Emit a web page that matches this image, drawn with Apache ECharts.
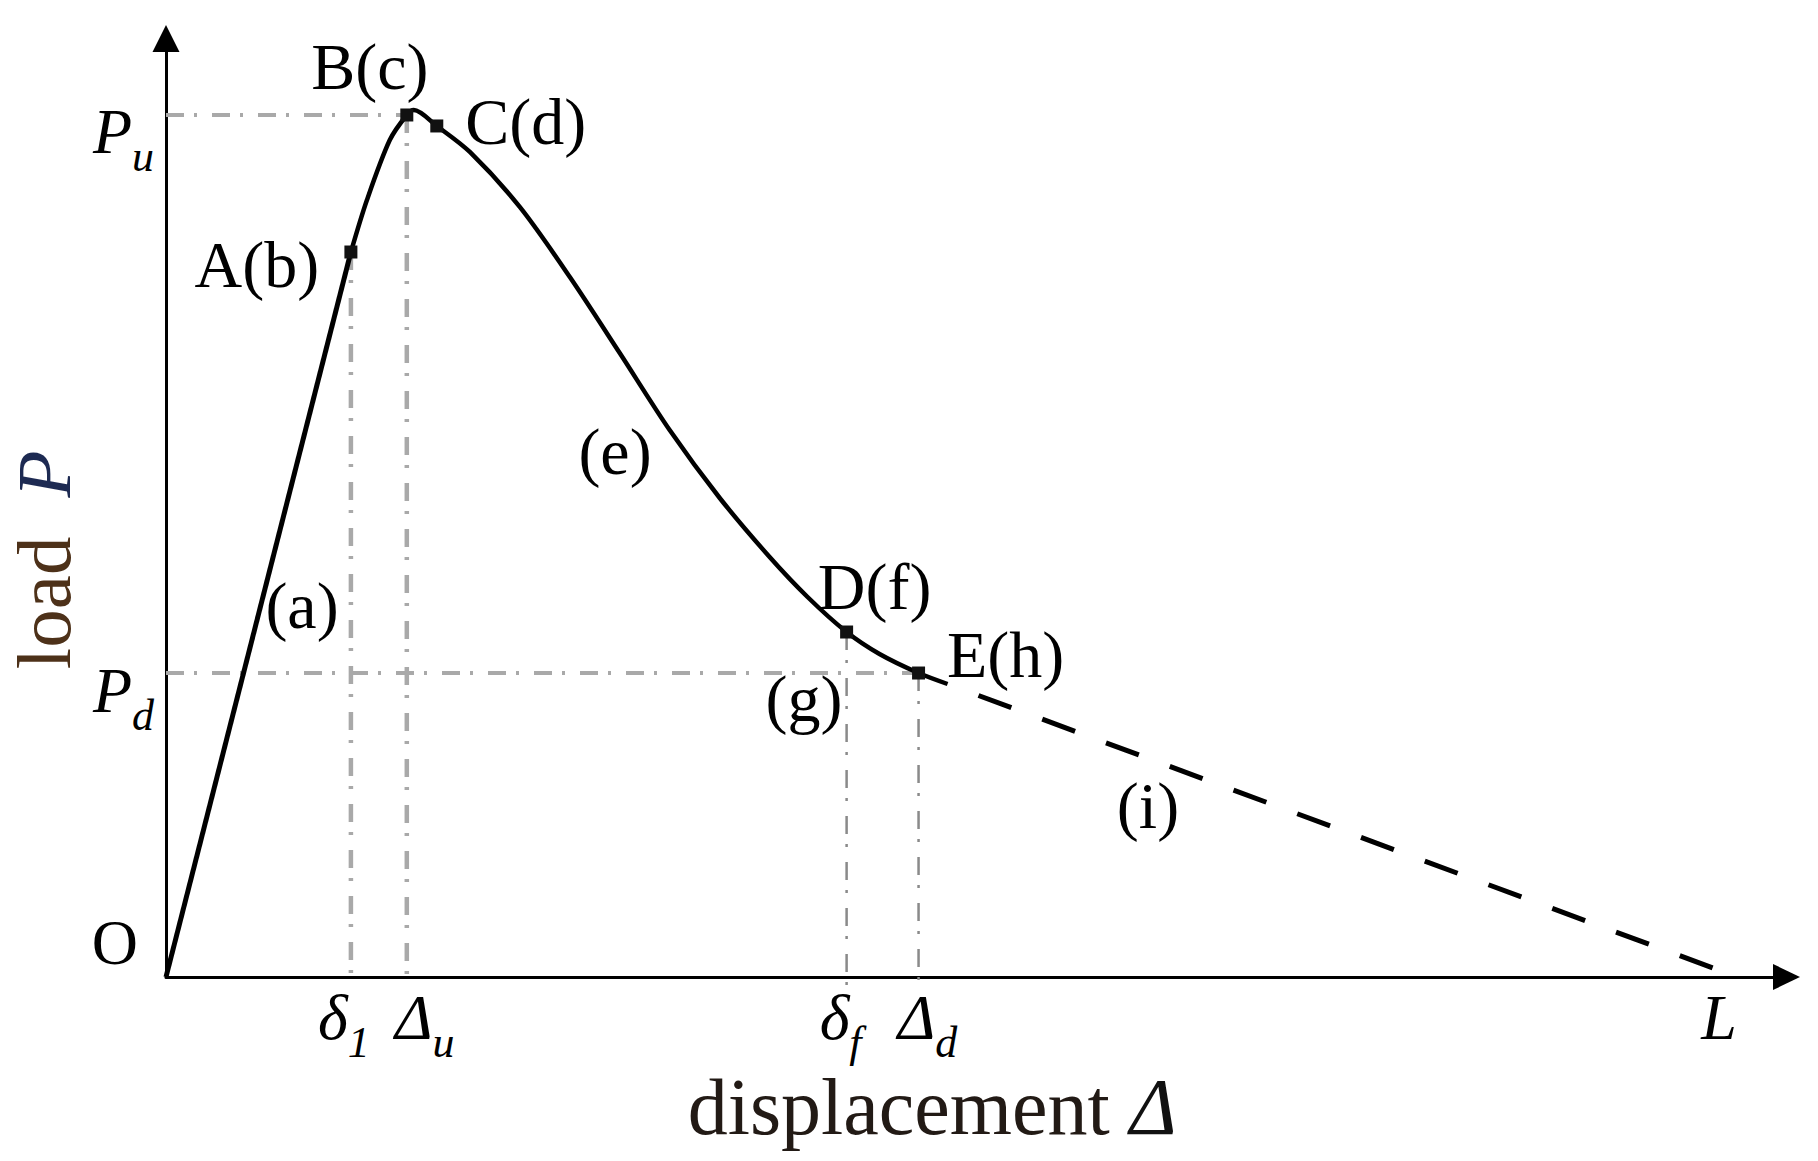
<!DOCTYPE html>
<html>
<head>
<meta charset="UTF-8">
<title>Load-displacement curve</title>
<script src="https://cdn.jsdelivr.net/npm/echarts@6.0.0/dist/echarts.min.js"></script>
<style>
    html, body { margin: 0; padding: 0; background: #fff; }
    #chart { width: 1818px; height: 1161px; }
</style>
</head>
<body>
<div id="chart"></div>
<script>
// characteristic points (x: displacement, y: load, in % of the axis length)
const keyNames = ['A(b)', 'B(c)', 'C(d)', 'D(f)', 'E(h)'];
const keyX = [11.41, 14.86, 16.71, 42.00, 46.44];
const keyY = [77.25, 91.85, 90.68, 36.76, 32.39];

// elastic branch O -> A
const elasticX = [0, 11.41];
const elasticY = [0, 77.25];

// nonlinear branch A -> end of the measured curve
const curveX = [11.41, 12.40, 13.81, 14.86, 15.29, 16.71, 18.75, 21.83, 24.92, 28.00, 31.08, 34.17, 37.25, 39.59, 42.00, 44.03, 46.44, 48.23];
const curveY = [77.25, 82.79, 89.18, 91.85, 92.38, 90.68, 87.91, 82.05, 74.59, 66.49, 58.28, 51.04, 44.75, 40.49, 36.76, 34.42, 32.39, 31.22];

// extrapolated branch (i) down to L
const tailX = [48.23, 95.96];
const tailY = [31.22, 0.64];

// tick labels
const xTickNames = ['δ1', 'Δu', 'δf', 'Δd', 'L'];
const xTickValues = [keyX[0], keyX[1], keyX[3], keyX[4], tailX[1]];
const yTickNames = ['O', 'Pd', 'Pu'];
const yTickValues = [0, keyY[4], keyY[1]];

// stage labels
const stageNames = ['(a)', '(e)', '(g)', '(i)'];

// ---- layout / style ----
const serif = '"Liberation Serif", "Times New Roman", serif';
const stagePos = [[302, 605], [615, 451], [804, 698], [1148, 805]];
const keyLabelOffset = { 'A(b)': [-94, 12], 'B(c)': [-37, -48], 'C(d)': [89, -4], 'D(f)': [28, -46], 'E(h)': [87, -19] };
const xShift = [-7, 18, -6, 9, -2];
const overshoot = 0.85;   // reference lines run a little past the x axis
const dashDot = [18, 10, 3, 15];

const xRich = {};
xTickNames.forEach((t, i) => {
    const sh = xShift[i];
    const hasSub = t.length > 1;
    xRich['m' + i] = {
        fontFamily: serif, fontStyle: 'italic', fontSize: 64, color: '#000', verticalAlign: 'top',
        padding: [0, (!hasSub && sh < 0) ? -2 * sh : 0, 0, sh > 0 ? 2 * sh : 0]
    };
    xRich['s' + i] = {
        fontFamily: serif, fontStyle: 'italic', fontSize: 44, color: '#000', verticalAlign: 'top',
        padding: [35, sh < 0 ? -2 * sh : 0, 0, 0]
    };
});

const yRich = {
    o: { fontFamily: serif, fontSize: 64, color: '#000', verticalAlign: 'top', padding: [0, 16, 70, 0] },
    pm: { fontFamily: serif, fontStyle: 'italic', fontSize: 64, color: '#000', verticalAlign: 'top', padding: [49, 0, 0, 0] },
    ps: { fontFamily: serif, fontStyle: 'italic', fontSize: 44, color: '#000', verticalAlign: 'top', padding: [84, 0, 0, 0] }
};

function nearestIndex(arr, v) {
    let best = 0;
    arr.forEach((a, i) => { if (Math.abs(a - v) < Math.abs(arr[best] - v)) best = i; });
    return best;
}

function xLabel(v) {
    const i = nearestIndex(xTickValues, v);
    const t = xTickNames[i];
    return t.length > 1 ? `{m${i}|${t[0]}}{s${i}|${t.slice(1)}}` : `{m${i}|${t}}`;
}

function yLabel(v) {
    const t = yTickNames[nearestIndex(yTickValues, v)];
    return t === 'O' ? '{o|O}' : `{pm|${t[0]}}{ps|${t.slice(1)}}`;
}

const zip = (xs, ys) => xs.map((x, i) => [x, ys[i]]);

function refLine(pts, color, width) {
    return {
        type: 'line', data: pts, symbol: 'none', clip: false, silent: true, z: 1,
        lineStyle: { color: color, width: width, type: dashDot }
    };
}

const [A, B, , D, E] = zip(keyX, keyY);

const chart = echarts.init(document.getElementById('chart'), null, { renderer: 'svg' });

chart.setOption({
    backgroundColor: '#fff',
    animation: false,
    grid: { left: 166, right: 31.5, top: 38.5, bottom: 184, outerBoundsMode: 'none' },
    xAxis: {
        type: 'value', min: 0, max: 100,
        axisLine: { onZero: false, lineStyle: { color: '#000', width: 3 }, symbol: ['none', 'triangle'], symbolSize: [26, 27] },
        axisTick: { show: false },
        splitLine: { show: false },
        axisLabel: { customValues: xTickValues, margin: 8, formatter: xLabel, rich: xRich },
        name: 'displacement {d|Δ}',
        nameLocation: 'middle',
        nameGap: 90,
        nameMoveOverlap: false,
        nameTextStyle: {
            fontFamily: serif, fontSize: 80, color: '#221a15', padding: [0, 88, 0, 0],
            rich: { d: { fontFamily: serif, fontStyle: 'italic', fontSize: 80, color: '#111' } }
        }
    },
    yAxis: {
        type: 'value', min: 0, max: 100,
        axisLine: { onZero: false, lineStyle: { color: '#000', width: 3 }, symbol: ['none', 'triangle'], symbolSize: [27, 27] },
        axisTick: { show: false },
        splitLine: { show: false },
        axisLabel: { customValues: yTickValues, margin: 12, formatter: yLabel, rich: yRich },
        name: 'load {p|P}',
        nameLocation: 'middle',
        nameGap: 84,
        nameMoveOverlap: false,
        nameTextStyle: {
            fontFamily: serif, fontSize: 77, color: '#4d3119', padding: [0, 104, 0, 0],
            rich: { p: { fontFamily: serif, fontStyle: 'italic', fontSize: 77, color: '#1d2a52', padding: [0, 0, 0, 20] } }
        }
    },
    series: [
        refLine([[0, B[1]], B], '#a9a9a9', 4),
        refLine([B, [B[0], -overshoot]], '#a9a9a9', 4.5),
        refLine([A, [A[0], -overshoot]], '#a9a9a9', 4.5),
        refLine([[0, E[1]], E], '#a9a9a9', 4),
        refLine([D, [D[0], -overshoot]], '#8a8a8a', 2.5),
        refLine([E, [E[0], -overshoot]], '#8a8a8a', 2.5),
        {
            type: 'line', data: zip(elasticX, elasticY), symbol: 'none', clip: false, z: 3,
            lineStyle: { color: '#000', width: 5 }
        },
        {
            type: 'line', data: zip(curveX, curveY), symbol: 'none', smooth: 0.3, clip: false, z: 3,
            lineStyle: { color: '#000', width: 4.5 }
        },
        {
            // zero-length first dash so the branch starts with a gap
            type: 'line', data: zip(tailX, tailY), symbol: 'none', clip: false, z: 3,
            lineStyle: { color: '#000', width: 5, type: [0, 33, 35, 0] }
        },
        {
            type: 'scatter', symbol: 'rect', symbolSize: 13, z: 5,
            itemStyle: { color: '#111', opacity: 1 },
            data: keyNames.map((n, i) => ({
                name: n, value: [keyX[i], keyY[i]],
                label: { offset: keyLabelOffset[n] }
            })),
            label: {
                show: true, position: 'inside', formatter: '{b}',
                fontFamily: serif, fontSize: 66, color: '#000', opacity: 1
            }
        }
    ],
    graphic: stageNames.map((t, i) => ({
        type: 'text', x: stagePos[i][0], y: stagePos[i][1], silent: true,
        style: {
            text: t, font: '66px ' + serif, fill: '#000',
            textAlign: 'center', textVerticalAlign: 'middle', align: 'center', verticalAlign: 'middle'
        }
    }))
});
</script>
</body>
</html>
